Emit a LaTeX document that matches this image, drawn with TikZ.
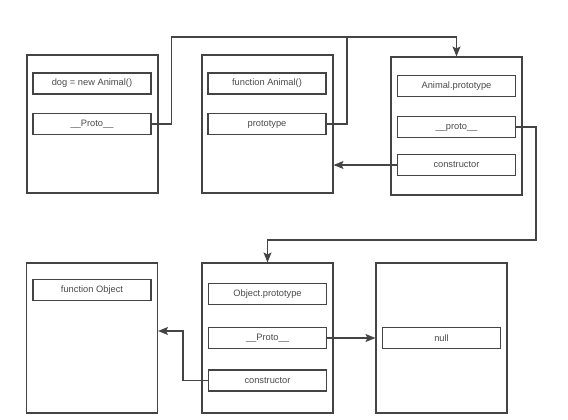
\documentclass[tikz,border=0pt]{standalone}
\usepackage{fontspec}
\setmainfont{Liberation Sans}
\usetikzlibrary{arrows.meta}
\definecolor{linegray}{HTML}{444444}
\definecolor{textgray}{HTML}{4a4a4a}
\begin{document}
\begin{tikzpicture}[
        x=1pt, y=-1pt,
        box/.style={draw=linegray, line width=1.1pt, minimum width=131pt, minimum height=138pt, inner sep=0pt},
        tallbox/.style={box, minimum height=150pt},
        field/.style={draw=linegray, line width=1.1pt, minimum width=118pt, minimum height=21pt, inner sep=0pt,
            text=textgray, font=\fontsize{9.3}{11}\selectfont},
        arrow/.style={-{Stealth[length=10pt,width=8pt,inset=2pt]}, draw=linegray, line width=1.1pt},
        link/.style={draw=linegray, line width=1.1pt}
    ]
        \useasboundingbox (0,0) rectangle (568,420);
        % Top row
        \node[box] (dogbox) at (92.5,124) {};
        \node[box] (animalbox) at (267.5,124) {};
        \node[box] (aprotobox) at (456.5,126) {};
        \node[field] (dog) at (92,83.5) {dog = new Animal()};
        \node[field] (dogproto) at (92,124) {\_\_Proto\_\_};
        \node[field] (animal) at (267,83.5) {function Animal()};
        \node[field] (ptype) at (267,124) {prototype};
        \node[field] (aproto) at (456.5,86) {Animal.prototype};
        \node[field] (aprotoproto) at (456.5,127) {\_\_proto\_\_};
        \node[field] (actor) at (456.5,165) {constructor};
        % Bottom row
        \node[tallbox] (objbox) at (92,338) {};
        \node[tallbox] (oprotobox) at (267.5,338) {};
        \node[tallbox] (nullbox) at (441.5,338) {};
        \node[field] (obj) at (92,290) {function Object};
        \node[field] (oproto) at (267.5,294) {Object.prototype};
        \node[field] (oprotoproto) at (267.5,338) {\_\_Proto\_\_};
        \node[field] (octor) at (267.5,380.5) {constructor};
        \node[field] (null) at (441.5,338) {null};
        % Links
        \coordinate (toptrack) at (456.5,37);
        \coordinate (join) at (347,37);
        \coordinate (rightturn) at (536,240);
        \coordinate (leftturn) at (183,331);
        \draw[arrow] (dogproto.east) -- ++(20,0) |- (toptrack) -- (aprotobox.north);
        \draw[link] (ptype.east) -| (join);
        \draw[arrow] (actor.west) -- (actor.west -| animalbox.east);
        \draw[arrow] (aprotoproto.east) -| (rightturn) -| (oprotobox.north);
        \draw[arrow] (oprotoproto.east) -- (nullbox.west);
        \draw[arrow] (octor.west) -| (leftturn) -- (leftturn -| objbox.east);
    \end{tikzpicture}
\end{document}
